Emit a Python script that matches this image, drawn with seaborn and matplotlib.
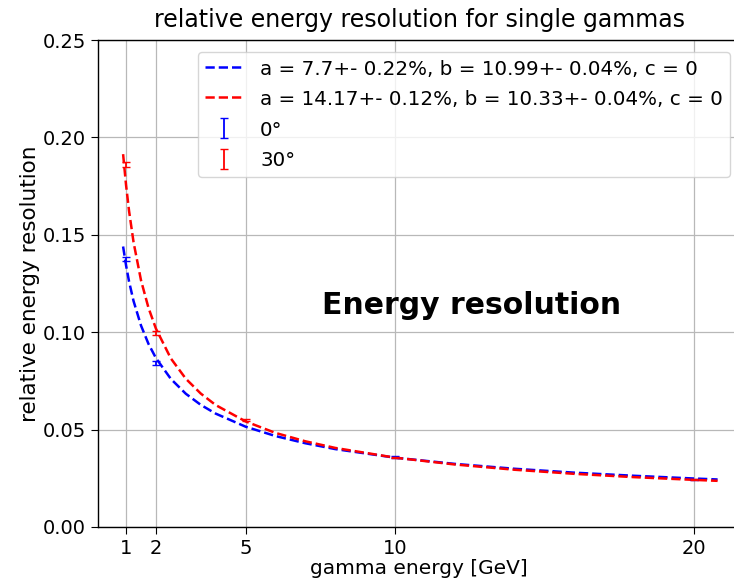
import matplotlib
matplotlib.use("Agg")
import matplotlib.pyplot as plt
import seaborn as sns
import pandas as pd

# fitted curves
fit_energy = [0.9, 1.0, 1.1, 1.25, 1.5, 1.75, 2.0, 2.5, 3.0, 3.5, 4.0, 5.0, 6.0, 7.0, 8.0,
              10.0, 12.0, 14.0, 16.0, 18.0, 20.0, 20.8]
fit_0deg = [0.1440, 0.1342, 0.1260, 0.1160, 0.1034, 0.0940, 0.0867, 0.0760, 0.0684, 0.0627,
            0.0582, 0.0515, 0.0467, 0.0430, 0.0400, 0.0356, 0.0324, 0.0299, 0.0279, 0.0263,
            0.0249, 0.0244]
fit_30deg = [0.1914, 0.1754, 0.1622, 0.1462, 0.1266, 0.1125, 0.1018, 0.0865, 0.0761, 0.0685,
             0.0626, 0.0542, 0.0483, 0.0440, 0.0406, 0.0356, 0.0321, 0.0294, 0.0273, 0.0256,
             0.0242, 0.0237]

# measured points
pts0_energy = [1, 2, 10, 20]
pts0_res = [0.1375, 0.0842, 0.0358, 0.0243]
pts0_err = [0.0012, 0.0008, 0.0004, 0.0003]
pts30_energy = [1, 2, 5, 10, 20]
pts30_res = [0.1860, 0.0996, 0.0548, 0.0356, 0.0244]
pts30_err = [0.0012, 0.0008, 0.0005, 0.0004, 0.0003]

labels_fit = ["a = 7.7+- 0.22%, b = 10.99+- 0.04%, c = 0",
              "a = 14.17+- 0.12%, b = 10.33+- 0.04%, c = 0"]
labels_pts = ["0°", "30°"]
xticks = [1, 2, 5, 10, 20]

sns.set_style("ticks", {"axes.grid": True, "grid.color": "#b0b0b0",
                        "axes.edgecolor": "black"})
plt.rcParams["font.family"] = ["DejaVu Sans"]
plt.rcParams["font.size"] = 14
for k in ["text.color", "axes.labelcolor", "xtick.color", "ytick.color"]:
    plt.rcParams[k] = "black"

fig = plt.figure(figsize=(7.34, 5.80), dpi=100)
ax = fig.add_axes([98 / 734, 53 / 580, (740 - 98) / 734, (527 - 40) / 580])

df = pd.DataFrame({"E": fit_energy + fit_energy,
                   "res": fit_0deg + fit_30deg,
                   "fit": [labels_fit[0]] * len(fit_energy) + [labels_fit[1]] * len(fit_energy)})
sns.lineplot(data=df, x="E", y="res", hue="fit", palette=["blue", "red"],
             linestyle="--", linewidth=1.8, ax=ax, legend=False, sort=False)
for ln in ax.lines:
    ln.set_dashes((3.7, 1.6))

h1 = ax.plot([], [], color="blue", ls="--", lw=1.8, label=labels_fit[0])[0]
h2 = ax.plot([], [], color="red", ls="--", lw=1.8, label=labels_fit[1])[0]
e1 = ax.errorbar(pts0_energy, pts0_res, yerr=pts0_err, fmt="none", ecolor="blue",
                 capsize=3, elinewidth=1.3, label=labels_pts[0])
e2 = ax.errorbar(pts30_energy, pts30_res, yerr=pts30_err, fmt="none", ecolor="red",
                 capsize=3, elinewidth=1.3, label=labels_pts[1])

ax.set_xlim(0.06, 21.55)
ax.set_ylim(0, 0.25)
ax.set_xticks(xticks)
ax.set_xticklabels([str(t) for t in xticks])
ax.set_yticks([0, 0.05, 0.10, 0.15, 0.20, 0.25])
ax.set_yticklabels(["0.00", "0.05", "0.10", "0.15", "0.20", "0.25"])
ax.tick_params(labelsize=14, length=5, color="black")
ax.grid(True, color="#b8b8b8", lw=0.9)
for s in ["left", "bottom", "top"]:
    ax.spines[s].set_color("black")
    ax.spines[s].set_linewidth(1.0)
ax.spines["right"].set_visible(False)

ax.set_xlabel("gamma energy [GeV]", fontsize=14.5, labelpad=1)
ax.set_ylabel("relative energy resolution", fontsize=15.5, labelpad=2)
ax.set_title("relative energy resolution for single gammas", fontsize=17, pad=9)

leg = ax.legend(handles=[h1, h2, e1, e2], loc="upper right",
                bbox_to_anchor=((730 - 98) / 642, (527 - 52) / 487),
                fontsize=14.3, frameon=True, handlelength=2.0, borderaxespad=0.0,
                borderpad=0.35, labelspacing=0.55, handletextpad=0.8, handleheight=1.0)
leg.get_frame().set_edgecolor("#cccccc")

ax.text((472 - 98) / 642, (527 - 306) / 487, "Energy resolution", transform=ax.transAxes,
        fontsize=21.5, fontweight="bold", family=["DejaVu Sans"], ha="center", va="center",
        color="black")

fig.savefig("out.png", dpi=100)
